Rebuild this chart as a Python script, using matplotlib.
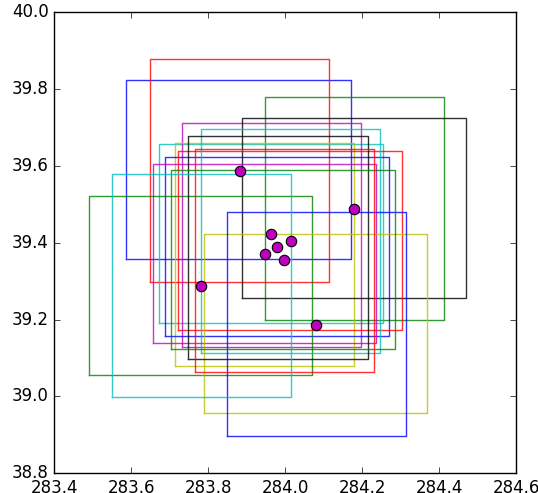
import matplotlib
matplotlib.use("Agg")
import matplotlib.pyplot as plt

# box extents (lon min/max, lat min/max), plotted in cycle order b g r c m y k
box_x0 = [283.587, 283.948, 283.648, 283.671, 283.732, 283.714, 283.887,
          283.688, 283.490, 283.720, 283.782, 283.655, 283.788, 283.748,
          283.849, 283.704, 283.765, 283.550]
box_x1 = [284.171, 284.413, 284.114, 284.253, 284.197, 284.179, 284.469,
          284.269, 284.069, 284.303, 284.247, 284.236, 284.368, 284.214,
          284.313, 284.286, 284.230, 284.014]
box_y0 = [39.359, 39.198, 39.297, 39.192, 39.130, 39.080, 39.257,
          39.157, 39.057, 39.173, 39.114, 39.140, 38.956, 39.097,
          38.896, 39.124, 39.063, 38.998]
box_y1 = [39.823, 39.779, 39.879, 39.656, 39.712, 39.661, 39.724,
          39.623, 39.523, 39.639, 39.696, 39.606, 39.422, 39.679,
          39.479, 39.589, 39.644, 39.579]
box_colors = ["b", "g", "r", "c", "m", "y", "k"]

# station positions
pt_x = [283.881, 284.179, 283.964, 284.014, 283.979, 283.947, 283.997, 283.781, 284.080]
pt_y = [39.588, 39.488, 39.422, 39.404, 39.388, 39.370, 39.354, 39.287, 39.187]

plt.style.use("classic")
plt.rcParams["axes.formatter.useoffset"] = False

fig = plt.figure(figsize=(5.38, 4.93), dpi=100, facecolor="white")
ax = fig.add_axes([0.101, 0.040, 0.8587, 0.935])

for i in range(len(box_x0)):
    xs = [box_x0[i], box_x1[i], box_x1[i], box_x0[i], box_x0[i]]
    ys = [box_y0[i], box_y0[i], box_y1[i], box_y1[i], box_y0[i]]
    ax.plot(xs, ys, color=box_colors[i % 7], lw=1.0, alpha=0.8)

ax.plot(pt_x, pt_y, "o", color="m", mec="k", mew=0.8, ms=7.5)

ax.set_xlim(283.4, 284.6)
ax.set_ylim(38.8, 40.0)
ax.set_xticks([283.4, 283.6, 283.8, 284.0, 284.2, 284.4, 284.6])
ax.set_yticks([38.8, 39.0, 39.2, 39.4, 39.6, 39.8, 40.0])

fig.savefig("out.png", dpi=100, facecolor="white")
